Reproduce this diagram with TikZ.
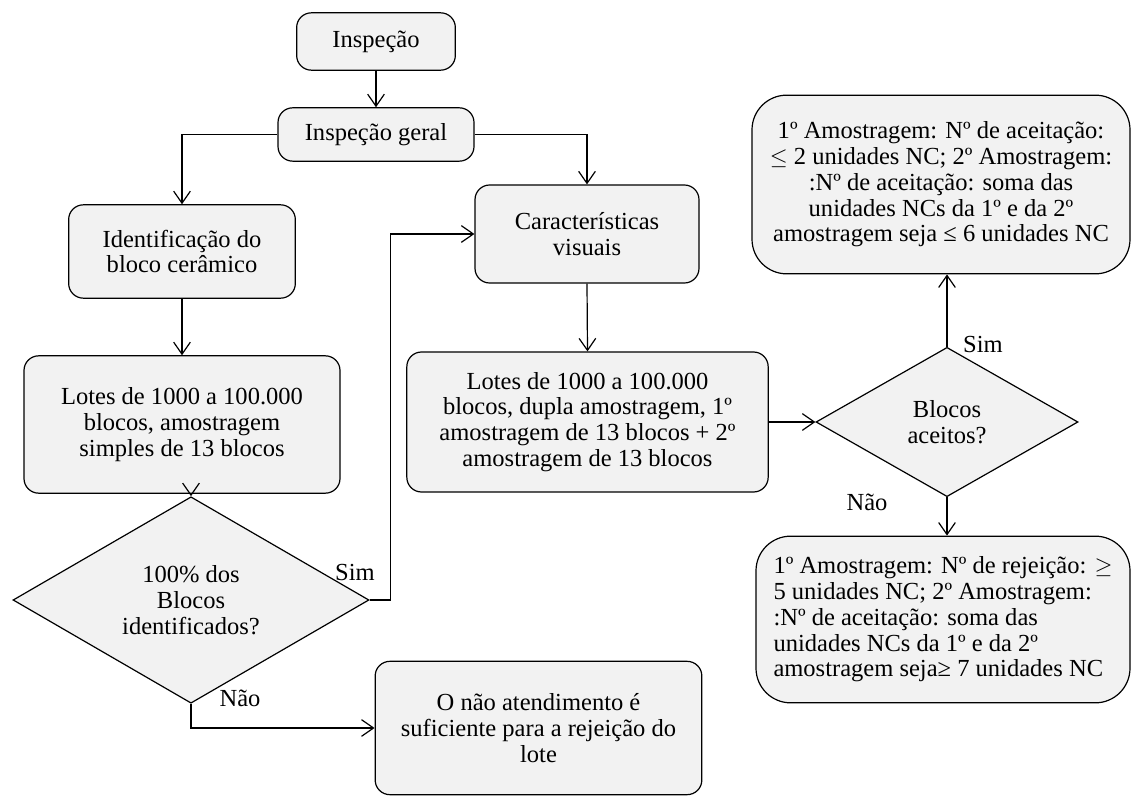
\documentclass[tikz,border=0pt]{standalone}
\usepackage{fontspec}
\setmainfont{Liberation Serif}
\usepackage{tikz}
\usetikzlibrary{shapes.geometric,arrows.meta}
\definecolor{boxfill}{RGB}{242,242,242}

\begin{document}
\begin{tikzpicture}[
    x=0.75pt, y=-0.75pt,
    font=\fontsize{18.4}{19.3}\selectfont,
    stepbox/.style={draw, rounded corners=11pt, align=center, line width=0.9pt, fill=boxfill, inner sep=2pt},
    bigbox/.style={draw, rounded corners=26pt, line width=0.9pt, fill=boxfill, inner sep=2pt},
    decbox/.style={draw, diamond, align=center, line width=0.9pt, fill=boxfill, inner sep=0pt},
    arrow/.style={-{Straight Barb[length=9pt, width=12.5pt]}, line width=0.9pt},
    lbl/.style={inner sep=0pt}
]
\useasboundingbox (0,0) rectangle (1132,798);

% Left branch
\node[stepbox, minimum width=119pt, minimum height=43pt] (insp) at (376,41.5) {Inspeção};
\node[stepbox, minimum width=147pt, minimum height=40pt] (geral) at (376,134.5) {Inspeção geral};
\node[stepbox, minimum width=170pt, minimum height=70pt] (ident) at (182,251.5) {Identificação do\\bloco cerâmico};
\node[stepbox, minimum width=237pt, minimum height=103pt] (lotesA) at (182,424.5) {Lotes de 1000 a 100.000\\blocos, amostragem\\simples de 13 blocos};
\node[decbox, minimum width=267pt, minimum height=142.5pt] (dec1) at (191,600) {100\% dos\\Blocos\\identificados?};
\node[stepbox, minimum width=245pt, minimum height=100pt] (nao) at (538.5,728) {O não atendimento é\\suficiente para a rejeição do\\lote};

% Middle branch
\node[stepbox, minimum width=168pt, minimum height=73.5pt] (carac) at (587,234) {Características\\visuais};
\node[stepbox, minimum width=271pt, minimum height=105pt] (lotesB) at (587.5,422) {Lotes de 1000 a 100.000\\blocos, dupla amostragem, 1º\\amostragem de 13 blocos + 2º\\amostragem de 13 blocos};

% Right branch
\node[decbox, minimum width=196.5pt, minimum height=112pt] (dec2) at (947,422) {Blocos\\aceitos?};
\node[bigbox, align=center, minimum width=283.5pt, minimum height=134pt] (aceit) at (941,184.5) {1º Amostragem: Nº de aceitação:\\$\leq$ 2 unidades NC; 2º Amostragem:\\:Nº de aceitação: soma das\\unidades NCs da 1º e da 2º\\amostragem seja ≤ 6 unidades NC};
\node[bigbox, align=left, minimum width=280.5pt, minimum height=125pt] (rejeit) at (943,619.5) {1º Amostragem: Nº de rejeição: $\geq$\\5 unidades NC; 2º Amostragem:\\:Nº de aceitação: soma das\\unidades NCs da 1º e da 2º\\amostragem seja≥ 7 unidades NC};

% Labels
\node[lbl] (simA) at (355,572) {Sim};
\node[lbl] (naoA) at (240,698) {Não};
\node[lbl] (simB) at (983,344) {Sim};
\node[lbl] (naoB) at (867,502) {Não};

% Connectors
\draw[arrow] (insp.south) -- (geral.north);
\draw[arrow] (geral.west) -| (ident.north);
\draw[arrow] (geral.east) -| (carac.north);
\draw[arrow] (ident.south) -- (lotesA.north);
\draw[arrow] (dec1.north |- lotesA.south) -- (dec1.north);
\draw[arrow] (dec1.east) -- ++(21,0) |- (carac.west);
\draw[arrow] (dec1.south) |- (nao.west);
\draw[arrow] (carac.south) -- (lotesB.north);
\draw[arrow] (lotesB.east) -- (dec2.west);
\draw[arrow] (dec2.north) -- (dec2.north |- aceit.south);
\draw[arrow] (dec2.south) -- (dec2.south |- rejeit.north);

\end{tikzpicture}
\end{document}
